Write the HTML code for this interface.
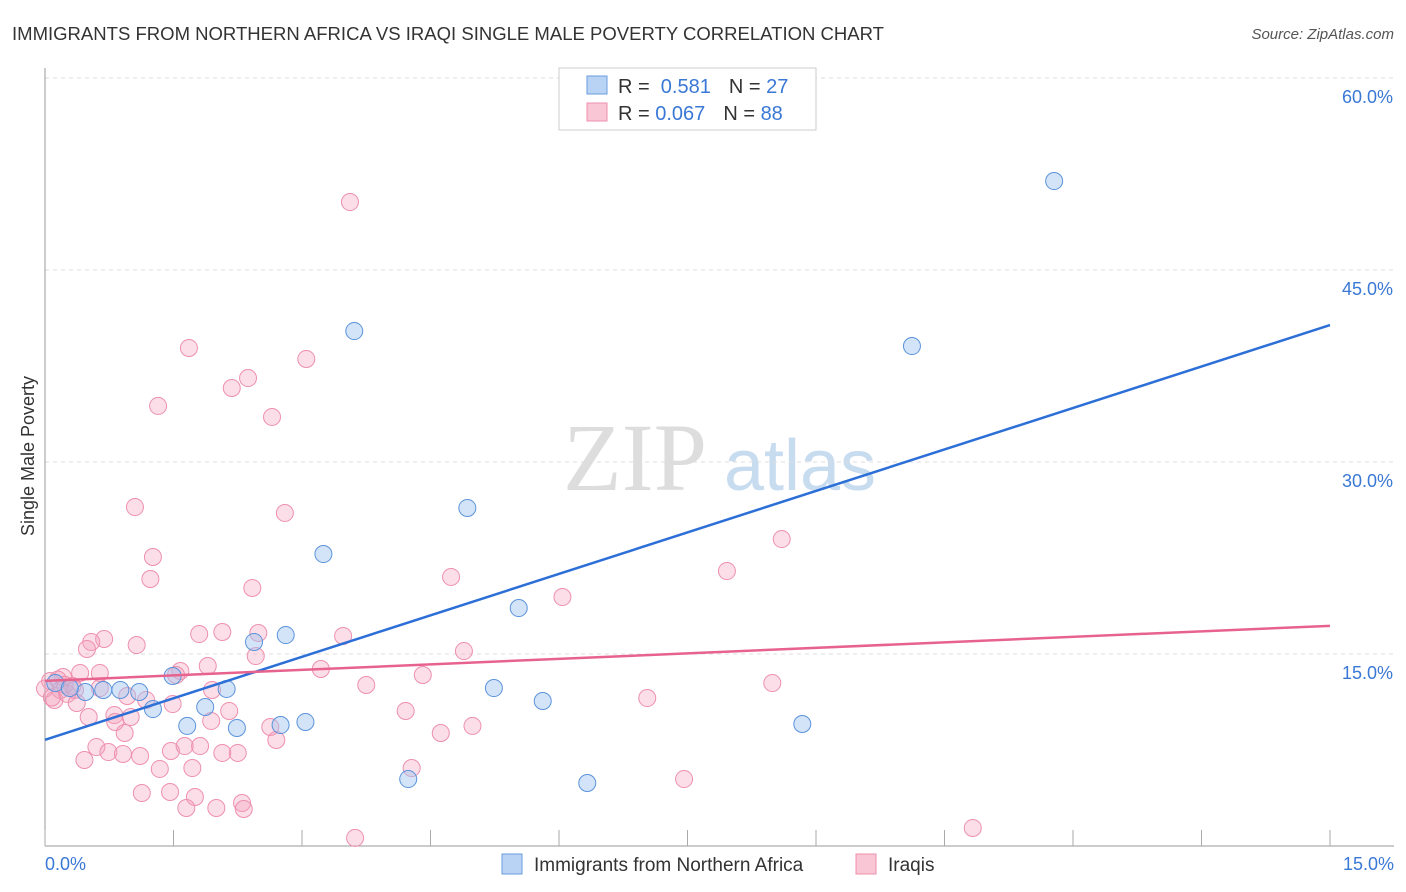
<!DOCTYPE html>
<html><head><meta charset="utf-8"><style>
body{margin:0;background:#fff;font-family:"Liberation Sans",sans-serif;}
svg{display:block}
</style></head><body>
<svg id="chart" width="1406" height="892">
<text x="12" y="40" font-size="18" fill="#333" textLength="872" lengthAdjust="spacingAndGlyphs">IMMIGRANTS FROM NORTHERN AFRICA VS IRAQI SINGLE MALE POVERTY CORRELATION CHART</text>
<text x="1394" y="39" font-size="15" fill="#555" text-anchor="end" font-style="italic">Source: ZipAtlas.com</text>
<text x="34" y="456" font-size="18" fill="#333" text-anchor="middle" transform="rotate(-90 34 456)">Single Male Poverty</text>
<text x="635" y="490" font-size="96" fill="#ddd" font-family="Liberation Serif,serif" text-anchor="middle">ZIP</text>
<text x="800" y="490" font-size="72" fill="#c8dcf0" text-anchor="middle">atlas</text>
<g id="grid"></g><g id="pts"></g><g id="lines"></g>
<g>
<rect x="559" y="68" width="257" height="62" fill="#fff" stroke="#ccc"/>
<rect x="587" y="76" width="20" height="18" fill="#b9d3f5" stroke="#6a9de0"/>
<rect x="587" y="103" width="20" height="18" fill="#f9c6d5" stroke="#ee90ae"/>
<text x="618" y="93" font-size="20" fill="#333">R = <tspan fill="#3a78d6">&#160;0.581</tspan><tspan dx="18">N = </tspan><tspan fill="#3a78d6">27</tspan></text>
<text x="618" y="120" font-size="20" fill="#333">R = <tspan fill="#3a78d6">0.067</tspan><tspan dx="18">N = </tspan><tspan fill="#3a78d6">88</tspan></text>
</g>
<g>
<rect x="502" y="854" width="20" height="20" fill="#b9d3f5" stroke="#6a9de0"/>
<text x="534" y="871" font-size="19" fill="#333">Immigrants from Northern Africa</text>
<rect x="856" y="854" width="20" height="20" fill="#f9c6d5" stroke="#ee90ae"/>
<text x="888" y="871" font-size="19" fill="#333">Iraqis</text>
</g>
</svg>
<script>
const yTicks=[15,30,45,60];
const yTickLabels=["15.0%","30.0%","45.0%","60.0%"];
const blueX=[11.78,10.12,3.61,4.93,3.25,5.53,2.81,2.44,1.49,5.24,5.81,2.12,1.87,1.26,1.10,0.88,0.68,0.47,1.66,2.24,2.75,3.04,8.84,4.24,6.33,0.12,0.29];
const blueY=[51.95,39.06,40.23,26.41,22.81,18.59,16.48,15.94,13.28,12.34,11.33,12.27,10.86,10.70,12.03,12.19,12.19,12.03,9.38,9.22,9.45,9.69,9.53,5.23,4.92,12.73,12.34];
const pinkX=[3.56,1.68,3.05,2.37,2.18,1.32,2.65,1.05,2.80,1.26,1.23,2.42,4.74,6.04,7.96,8.60,1.80,2.07,2.49,3.48,1.07,0.69,0.54,0.49,2.46,4.89,1.90,1.58,1.53,3.22,4.41,3.75,0.64,0.41,0.21,0.06,0.32,0.18,0.11,0.26,0.37,0.64,0.96,1.18,1.49,1.95,2.15,8.49,7.03,4.21,0.51,1.00,0.81,0.82,1.94,2.63,4.99,4.62,0.93,2.70,0.60,0.74,0.91,1.11,1.47,1.63,1.81,2.07,2.25,0.46,1.34,1.72,4.28,7.46,1.13,1.46,1.75,1.65,2.00,2.30,2.32,3.62,10.83,0.15,0.23,0.35,0.0,0.08];
const pinkY=[50.31,38.91,38.05,36.56,35.78,34.38,33.52,26.48,26.02,22.58,20.86,20.16,21.02,19.45,21.48,23.98,16.56,16.72,16.64,16.41,15.70,16.17,15.94,15.39,14.84,15.23,14.06,13.67,13.36,13.83,13.36,12.58,13.52,13.52,13.20,12.89,12.50,12.19,11.41,11.88,11.17,12.34,11.72,11.41,11.09,12.19,10.55,12.73,11.56,10.55,10.08,10.08,10.23,9.69,9.77,9.30,9.38,8.83,8.83,8.28,7.73,7.34,7.19,7.03,7.42,7.81,7.81,7.27,7.27,6.72,6.02,6.09,6.09,5.23,4.14,4.22,3.83,2.97,2.97,3.36,2.89,0.63,1.41,13.0,12.6,12.2,12.3,11.6];
const blueLine=[8.3,40.7];
const pinkLine=[12.9,17.2];
const X=v=>45+v/15*1285, Y=v=>846-v/15*192;
const NS="http://www.w3.org/2000/svg";
function mk(t,a,p){const e=document.createElementNS(NS,t);for(const k in a)e.setAttribute(k,a[k]);p.appendChild(e);return e;}
const grid=document.getElementById('grid');
yTicks.forEach((t,i)=>{
 const l=mk('line',{x1:45,x2:1394,y1:Y(t),y2:Y(t),stroke:'#ddd','stroke-dasharray':'4,4'},grid);
 
 
 const tx=mk('text',{x:1393,y:Y(t)+25,'font-size':18,fill:'#3a78d6','text-anchor':'end'},grid);
 tx.textContent=yTickLabels[i];
 
 
});
const ax=mk('line',{x1:45,x2:45,y1:68,y2:846,stroke:'#999'},grid);


const bx=mk('line',{x1:45,x2:1394,y1:846,y2:846,stroke:'#999'},grid);


for(let i=0;i<=10;i++){const t=mk('line',{x1:X(i*1.5),x2:X(i*1.5),y1:830,y2:846,stroke:'#aaa'},grid);
 
 }
[["0.0%",45,'start'],["15.0%",1394,'end']].forEach(a=>{const t=mk('text',{x:a[1],y:870,'font-size':18,fill:'#3a78d6','text-anchor':a[2]},grid);t.textContent=a[0];
 
 });
const pts=document.getElementById('pts');
pinkX.forEach((v,i)=>{const c=mk('circle',{cx:X(v),cy:Y(pinkY[i]),r:8.5,fill:'rgba(244,160,188,0.35)',stroke:'#ee90ae','stroke-width':1},pts);
 
 });
blueX.forEach((v,i)=>{const c=mk('circle',{cx:X(v),cy:Y(blueY[i]),r:8.5,fill:'rgba(160,196,240,0.45)',stroke:'#5b93dc','stroke-width':1},pts);
 
 });
const lines=document.getElementById('lines');
const l1=mk('line',{x1:X(0),y1:Y(blueLine[0]),x2:X(15),y2:Y(blueLine[1]),stroke:'#2c6fd6','stroke-width':2.5},lines);


const l2=mk('line',{x1:X(0),y1:Y(pinkLine[0]),x2:X(15),y2:Y(pinkLine[1]),stroke:'#e8628e','stroke-width':2.5},lines);


</script>
</body></html>
